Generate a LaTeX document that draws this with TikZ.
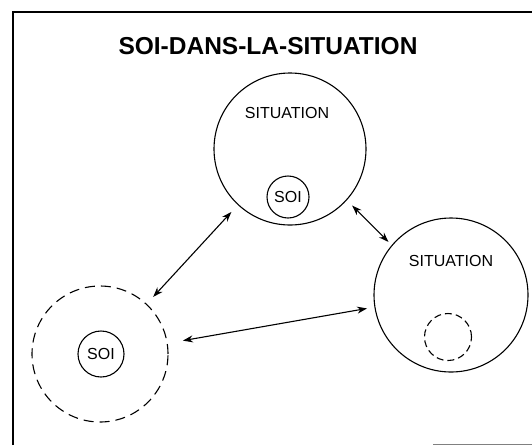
\documentclass[tikz,border=0pt]{standalone}
\usepackage{fontspec}
\setmainfont{Liberation Sans}
\usetikzlibrary{arrows.meta}

\begin{document}
\begin{tikzpicture}[x=1pt,y=-1pt,
    ring/.style={circle,draw,line width=1.1pt,inner sep=0pt,outer sep=0pt},
    dashring/.style={ring,dash pattern=on 10pt off 6pt},
    word/.style={inner sep=0pt,font=\fontsize{16}{16}\selectfont},
    link/.style={{Stealth[length=10pt,width=7pt]}-{Stealth[length=10pt,width=7pt]},line width=1.1pt}]
  \useasboundingbox (0,0) rectangle (532,445);
  \draw[line width=1.2pt] (13,445) -- (13,12) -- (532,12);
  \draw[gray,line width=1pt] (433,444) -- (532,444);
  \node[font=\bfseries\fontsize{24.5}{24.5}\selectfont] (T) at (268,46) {SOI-DANS-LA-SITUATION};
  \node[ring,minimum size=152pt] (A) at (290,149) {};
  \node[ring,minimum size=154pt] (B) at (451,295) {};
  \node[dashring,minimum size=136pt] (C) at (100,354) {};
  \node[ring,minimum size=42pt] (A1) at (288,197) {};
  \node[ring,minimum size=46pt] (C1) at (101,354) {};
  \node[ring,dash pattern=on 7pt off 4pt,minimum size=47pt] (B1) at (448,337) {};
  \node[word] (LA) at (287,113) {SITUATION};
  \node[word] (LB) at (451,261) {SITUATION};
  \node[word,font=\fontsize{16}{16}\selectfont] (SA) at (A1) {SOI};
  \node[word,font=\fontsize{16}{16}\selectfont] (SC) at (C1) {SOI};
  \draw[link,shorten <=10pt,shorten >=10pt] (A.227) -- (C.47);
  \draw[link,shorten <=8pt,shorten >=5pt] (A.318) -- (B.140);
  \draw[link,shorten <=16pt,shorten >=8pt] (C.9) -- (B.189);
\end{tikzpicture}
\end{document}
